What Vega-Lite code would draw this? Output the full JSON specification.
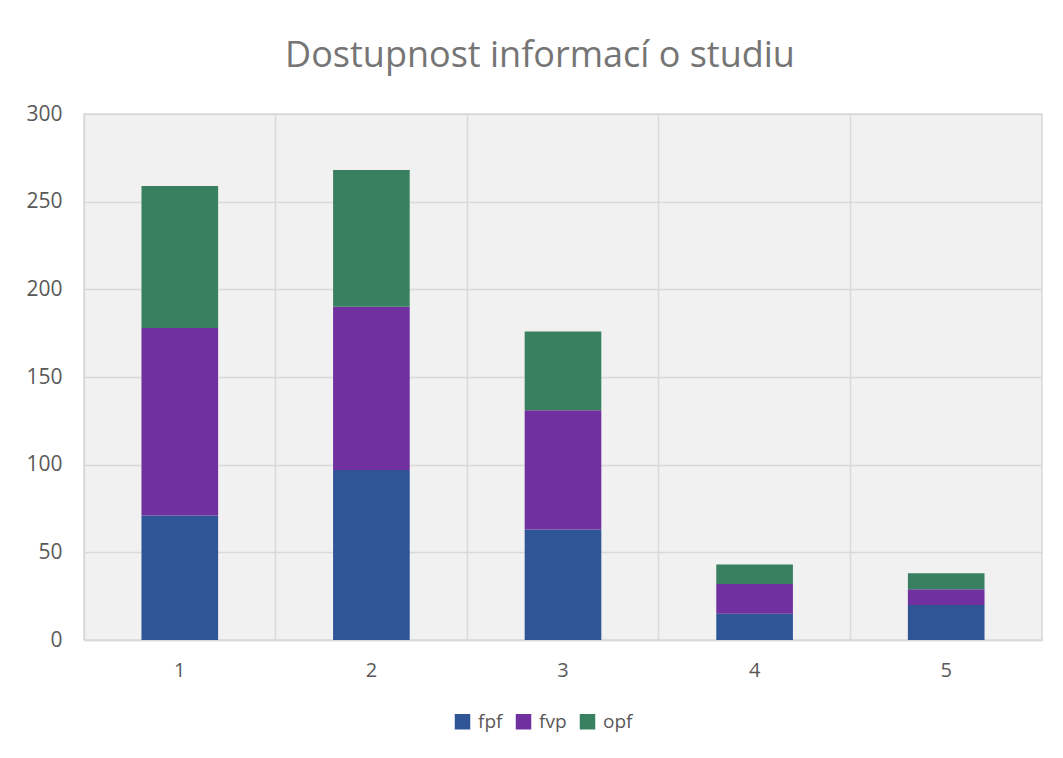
{
  "$schema": "https://vega.github.io/schema/vega-lite/v6.json",
  "width": 958,
  "height": 526,
  "autosize": {"type": "none"},
  "padding": {"left": 84, "top": 114, "right": 21, "bottom": 118},
  "background": "white",
  "title": {
    "text": "Dostupnost informací o studiu",
    "font": "Open Sans",
    "fontSize": 36,
    "fontWeight": "normal",
    "color": "#757575",
    "anchor": "middle",
    "frame": "group",
    "dx": -23,
    "offset": 28
  },
  "data": {
    "values": [
      {"kategorie": "1", "skupina": "fpf", "poradi": 1, "pocet": 71},
      {"kategorie": "1", "skupina": "fvp", "poradi": 2, "pocet": 107},
      {"kategorie": "1", "skupina": "opf", "poradi": 3, "pocet": 81},
      {"kategorie": "2", "skupina": "fpf", "poradi": 1, "pocet": 97},
      {"kategorie": "2", "skupina": "fvp", "poradi": 2, "pocet": 93},
      {"kategorie": "2", "skupina": "opf", "poradi": 3, "pocet": 78},
      {"kategorie": "3", "skupina": "fpf", "poradi": 1, "pocet": 63},
      {"kategorie": "3", "skupina": "fvp", "poradi": 2, "pocet": 68},
      {"kategorie": "3", "skupina": "opf", "poradi": 3, "pocet": 45},
      {"kategorie": "4", "skupina": "fpf", "poradi": 1, "pocet": 15},
      {"kategorie": "4", "skupina": "fvp", "poradi": 2, "pocet": 17},
      {"kategorie": "4", "skupina": "opf", "poradi": 3, "pocet": 11},
      {"kategorie": "5", "skupina": "fpf", "poradi": 1, "pocet": 20},
      {"kategorie": "5", "skupina": "fvp", "poradi": 2, "pocet": 9},
      {"kategorie": "5", "skupina": "opf", "poradi": 3, "pocet": 9}
    ]
  },
  "mark": {"type": "bar", "width": {"band": 0.4}},
  "encoding": {
    "x": {
      "field": "kategorie",
      "type": "nominal",
      "scale": {"paddingInner": 0, "paddingOuter": 0},
      "axis": {
        "title": null,
        "labelAngle": 0,
        "grid": true,
        "bandPosition": 0,
        "gridColor": "#d9d9d9",
        "gridWidth": 1.5,
        "ticks": false,
        "domainColor": "#d9d9d9",
        "domainWidth": 1.5,
        "labelFont": "Open Sans",
        "labelFontSize": 20,
        "labelColor": "#595959",
        "labelPadding": 20
      }
    },
    "y": {
      "field": "pocet",
      "type": "quantitative",
      "stack": "zero",
      "scale": {"domain": [0, 300]},
      "axis": {
        "title": null,
        "values": [0, 50, 100, 150, 200, 250, 300],
        "grid": true,
        "gridColor": "#d9d9d9",
        "gridWidth": 1.5,
        "ticks": false,
        "domain": false,
        "labelFont": "Open Sans",
        "labelFontSize": 21,
        "labelColor": "#595959",
        "labelPadding": 22
      }
    },
    "color": {
      "field": "skupina",
      "type": "nominal",
      "scale": {
        "domain": ["fpf", "fvp", "opf"],
        "range": ["#2F5597", "#7030A0", "#388060"]
      },
      "legend": {
        "title": null,
        "orient": "none",
        "direction": "horizontal",
        "legendX": 369,
        "legendY": 598,
        "symbolType": "square",
        "symbolSize": 240,
        "symbolStrokeWidth": 0,
        "labelFont": "Open Sans",
        "labelFontSize": 19,
        "labelColor": "#595959",
        "columnPadding": 11,
        "labelOffset": 6
      }
    },
    "order": {"field": "poradi", "type": "quantitative"}
  },
  "config": {
    "view": {"fill": "#f1f1f1", "stroke": "#d9d9d9", "strokeWidth": 1.5}
  }
}
